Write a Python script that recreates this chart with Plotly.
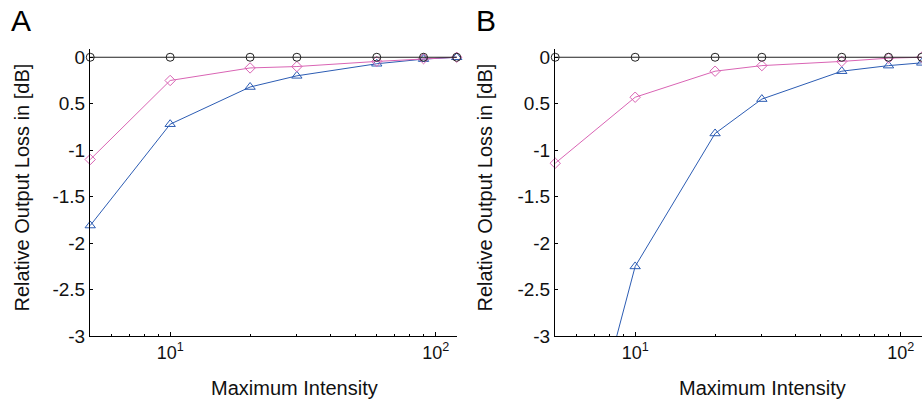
import math
import plotly.graph_objects as go

# ---- data ----
intensity = [5, 10, 20, 30, 60, 90, 120]

a_ref = [0, 0, 0, 0, 0, 0, 0]
a_pink = [-1.10, -0.25, -0.115, -0.10, -0.045, -0.015, 0.0]
a_blue = [-1.81, -0.72, -0.32, -0.20, -0.07, -0.02, 0.0]

b_ref = [0, 0, 0, 0, 0, 0, 0]
b_pink = [-1.14, -0.43, -0.15, -0.09, -0.045, -0.01, 0.0]
b_blue = [-5.5, -2.25, -0.82, -0.45, -0.15, -0.09, -0.06]

y_tickvals = [0, -0.5, -1, -1.5, -2, -2.5, -3]
y_ticktext = ["0", "0.5", "-1", "-1.5", "-2", "-2.5", "-3"]
x_tickvals = [10, 100]
x_ticktext = ["10<sup>1</sup>", "10<sup>2</sup>"]
x_minor = [6, 7, 8, 9, 20, 30, 40, 50, 60, 70, 80, 90]

panel_labels = ["A", "B"]
x_title = "Maximum Intensity"
y_title = "Relative Output Loss in [dB]"

BLACK = "#222222"
PINK = "#d964b4"
BLUE = "#2c5cb3"
FONT = "Liberation Sans, Arial, sans-serif"

fig = go.Figure()

panels = [(a_ref, a_pink, a_blue, "x", "y"), (b_ref, b_pink, b_blue, "x2", "y2")]
for ref, pink, blue, xa, ya in panels:
    fig.add_trace(go.Scatter(x=intensity, y=blue, mode="lines+markers", xaxis=xa, yaxis=ya,
                             line=dict(color=BLUE, width=1),
                             marker=dict(symbol="triangle-up-open", size=9, color=BLUE, line=dict(width=1)),
                             cliponaxis=False, showlegend=False))
    fig.add_trace(go.Scatter(x=intensity, y=pink, mode="lines+markers", xaxis=xa, yaxis=ya,
                             line=dict(color=PINK, width=1),
                             marker=dict(symbol="diamond-open", size=8, color=PINK, line=dict(width=1)),
                             cliponaxis=False, showlegend=False))
    fig.add_trace(go.Scatter(x=intensity, y=ref, mode="lines+markers", xaxis=xa, yaxis=ya,
                             line=dict(color=BLACK, width=1),
                             marker=dict(symbol="circle-open", size=8, color=BLACK, line=dict(width=1)),
                             cliponaxis=False, showlegend=False))

xr = [math.log10(4.99), math.log10(120.3)]
common_x = dict(type="log", range=xr, tickmode="array", tickvals=x_tickvals, ticktext=x_ticktext,
                ticks="inside", ticklen=4, tickcolor="#000", showline=True, linecolor="#000", linewidth=1,
                showgrid=False, zeroline=False, tickfont=dict(family=FONT, size=18, color="#111"),
                minor=dict(tickmode="array", tickvals=x_minor, ticks="inside", ticklen=2, tickcolor="#000",
                           showgrid=False))
common_y = dict(range=[-3, 0.09], tickmode="array", tickvals=y_tickvals, ticktext=y_ticktext,
                ticks="inside", ticklen=3, tickcolor="#000", showline=True, linecolor="#000", linewidth=1,
                showgrid=False, zeroline=False, tickfont=dict(family=FONT, size=19, color="#111"))

W, H = 922, 399
fig.update_layout(
    width=W, height=411, margin=dict(l=0, r=0, t=0, b=0),
    paper_bgcolor="white", plot_bgcolor="white",
    xaxis=dict(domain=[90 / W, 457 / W], anchor="y", **common_x),
    yaxis=dict(domain=[1 - 335 / H, 1 - 47 / H], anchor="x", **common_y),
    xaxis2=dict(domain=[555 / W, 922 / W], anchor="y2", **common_x),
    yaxis2=dict(domain=[1 - 335 / H, 1 - 47 / H], anchor="x2", **common_y),
)

ann = []
for label, lx, xt_x, yt_x in [(panel_labels[0], 9, 294, 22), (panel_labels[1], 474, 762, 485)]:
    ann.append(dict(text=label, x=lx / W, y=1.0, xref="paper", yref="paper", xanchor="left",
                    yanchor="top", showarrow=False, font=dict(family=FONT, size=30, color="#000")))
    ann.append(dict(text=x_title, x=xt_x / W, y=1 - 387 / H, xref="paper", yref="paper", xanchor="center",
                    yanchor="middle", showarrow=False, font=dict(family=FONT, size=20, color="#111")))
    ann.append(dict(text=y_title, x=yt_x / W, y=1 - 186 / H, xref="paper", yref="paper", xanchor="center",
                    yanchor="middle", textangle=-90, showarrow=False, font=dict(family=FONT, size=20, color="#111")))
fig.update_layout(annotations=ann)

post = (
    "document.documentElement.style.margin='0';"
    "document.documentElement.style.overflow='hidden';"
    "document.body.style.margin='0';"
    "document.body.style.overflow='hidden';"
    "var gd=document.getElementById('{plot_id}');"
    "gd.style.position='fixed';gd.style.left='0px';gd.style.top='0px';"
)
fig.write_html("out.html", config={"displayModeBar": False}, post_script=post)
